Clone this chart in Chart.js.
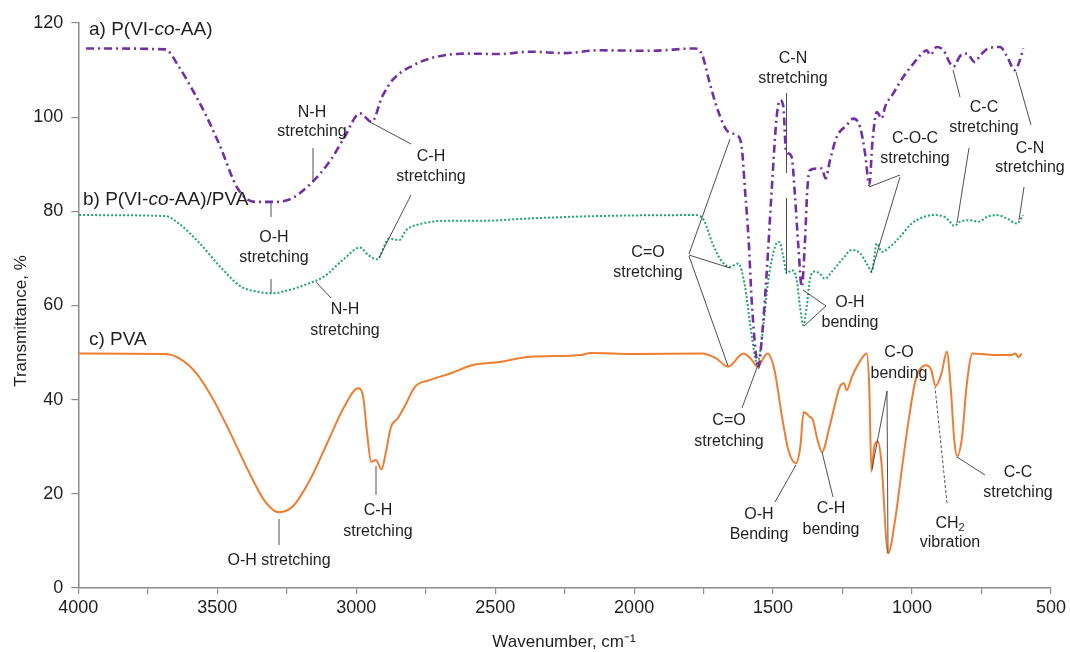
<!DOCTYPE html>
<html>
<head>
<meta charset="utf-8">
<script src="https://cdn.jsdelivr.net/npm/chart.js@4.4.1/dist/chart.umd.min.js"></script>
<style>
  html, body { margin: 0; padding: 0; background: #fff; }
</style>
</head>
<body>
<canvas id="ftir" width="1070" height="652"></canvas>
<script>
// a) P(VI-co-AA)
var waveA = [3972, 3687, 3638, 3588, 3538, 3489, 3427, 3365, 3303, 3241,
             3160, 3092, 3042, 2987, 2944, 2907, 2869, 2795, 2733, 2609,
             2485, 2374, 2250, 2127, 1941, 1780, 1755, 1731, 1699, 1662,
             1631, 1613, 1601, 1588, 1577, 1562, 1553, 1541, 1523, 1505,
             1487, 1475, 1463, 1454, 1445, 1433, 1421, 1409, 1397, 1385,
             1377, 1368, 1343, 1325, 1311, 1295, 1271, 1235, 1211, 1187,
             1169, 1154, 1142, 1127, 1109, 1097, 1068, 1031, 995, 965,
             947, 935, 911, 887, 863, 851, 827, 803, 774, 756,
             726, 683, 659, 630, 612, 600];
var transA = [114.6, 114.4, 110.7, 105.7, 100.1, 93.7, 84.9, 82.0, 82.0, 82.5,
              86.1, 90.9, 95.8, 100.8, 99.0, 104.3, 107.9, 111.0, 112.5, 113.5,
              113.4, 113.9, 113.6, 114.2, 114.1, 114.6, 113.2, 107.9, 101.5, 96.9,
              96.2, 93.7, 84.5, 73.9, 61.1, 49.9, 46.7, 52.7, 66.9, 84.5,
              100.1, 103.6, 102.2, 93.0, 92.3, 91.5, 83.1, 72.5, 64.0, 73.9,
              84.5, 88.7, 89.1, 89.1, 87.0, 90.9, 95.8, 98.3, 99.7, 97.9,
              92.3, 85.6, 95.1, 101.1, 99.7, 102.2, 105.0, 108.6, 111.4, 113.5,
              114.2, 113.2, 114.9, 114.2, 111.4, 110.7, 113.0, 113.5, 111.7, 113.0,
              114.6, 114.9, 113.0, 110.0, 112.1, 114.6];

// b) P(VI-co-AA)/PVA
var waveB = [3997, 3687, 3638, 3563, 3489, 3414, 3352, 3303, 3241, 3166,
             3117, 3042, 2987, 2956, 2925, 2882, 2845, 2820, 2770, 2671,
             2547, 2374, 2127, 1780, 1749, 1718, 1687, 1656, 1625, 1601,
             1583, 1565, 1557, 1541, 1517, 1493, 1478, 1463, 1451, 1433,
             1415, 1403, 1391, 1379, 1368, 1350, 1332, 1314, 1284, 1248,
             1218, 1187, 1163, 1145, 1127, 1109, 1079, 1043, 1007, 971,
             924, 882, 864, 848, 827, 791, 761, 731, 696, 659,
             623, 600];
var transB = [79.2, 79.0, 77.4, 73.2, 68.2, 64.0, 62.9, 62.6, 63.3, 64.8,
              66.1, 70.0, 72.3, 70.7, 69.8, 74.2, 73.9, 76.0, 77.3, 78.0,
              78.0, 78.5, 79.0, 79.2, 78.1, 73.2, 69.6, 68.2, 68.9, 64.0,
              56.2, 49.1, 47.3, 52.7, 65.4, 72.5, 73.5, 70.3, 66.8, 67.5,
              65.4, 59.7, 55.8, 59.7, 65.4, 67.2, 66.8, 65.7, 67.5, 70.0,
              71.8, 71.1, 68.9, 67.2, 73.2, 71.4, 72.5, 74.6, 77.1, 78.5,
              79.2, 78.8, 77.8, 76.9, 77.8, 78.1, 77.8, 78.8, 79.2, 78.5,
              77.4, 79.2];

// c) PVA
var waveC = [3997, 3687, 3638, 3575, 3513, 3452, 3390, 3327, 3278, 3229,
             3167, 3105, 3043, 2993, 2975, 2962, 2946, 2929, 2909, 2894,
             2875, 2851, 2820, 2789, 2733, 2659, 2584, 2485, 2374, 2189,
             2158, 2003, 1755, 1706, 1662, 1607, 1576, 1557, 1520, 1495,
             1470, 1445, 1418, 1402, 1390, 1369, 1357, 1340, 1324, 1297,
             1260, 1245, 1235, 1216, 1185, 1163, 1154, 1146, 1136, 1123,
             1111, 1086, 1061, 1037, 1012, 987, 950, 931, 915, 894,
             875, 861, 848, 838, 820, 804, 783, 702, 641, 628,
             618, 605];
var transC = [49.8, 49.7, 48.8, 45.6, 39.9, 32.8, 25.1, 18.3, 16.1, 17.3,
              22.9, 30.7, 38.5, 42.4, 40.6, 33.5, 26.8, 27.2, 25.2, 28.6,
              34.2, 36.0, 39.2, 42.7, 44.2, 45.6, 47.3, 48.0, 49.1, 49.5,
              49.9, 49.7, 49.8, 48.8, 47.0, 49.8, 48.4, 47.0, 49.8, 46.3,
              37.1, 29.3, 26.5, 30.0, 37.4, 36.4, 35.7, 31.4, 28.9, 34.2,
              42.7, 43.5, 42.0, 44.9, 48.4, 49.8, 42.7, 24.7, 30.0, 31.1,
              27.2, 7.4, 14.4, 25.1, 35.7, 44.2, 47.3, 46.3, 42.9, 45.6,
              50.2, 42.7, 31.4, 28.0, 32.1, 42.7, 49.8, 49.5, 49.5, 49.8,
              49.0, 49.8];

var xTicks = [4000, 3750, 3500, 3250, 3000, 2750, 2500, 2250, 2000, 1750, 1500, 1250, 1000, 750, 500];
var yTicks = [0, 20, 40, 60, 80, 100, 120];

function pts(w, t) {
  return w.map(function(x, i) { return { x: x, y: t[i] }; });
}

var FONT = '"Liberation Sans", Arial, sans-serif';
var TXT = '#1f1f1f';
var AXIS = '#8a8a8a';

// series names (segment lists, italic "co")
var seriesLabels = [
  { segs: ['a) P(VI-', { t: 'co', i: true }, '-AA)'], x: 89, y: 30 },
  { segs: ['b) P(VI-', { t: 'co', i: true }, '-AA)/PVA'], x: 83, y: 200 },
  { segs: ['c) PVA'], x: 89, y: 340 }
];

// band labels: text lines, centre x, line y's, leader lines
var notes = [
  { lines: ['N-H', 'stretching'], x: 312, y: [113, 132], lead: [[313, 148, 313, 182]] },
  { lines: ['C-H', 'stretching'], x: 431, y: [157, 177], lead: [[411, 144, 370, 122], [411, 195, 379, 258]] },
  { lines: ['O-H', 'stretching'], x: 274, y: [238, 258], lead: [[271, 203, 271, 217], [271, 279, 271, 293]] },
  { lines: ['N-H', 'stretching'], x: 345, y: [310, 331], lead: [[331, 298, 316, 282]] },
  { lines: ['O-H stretching'], x: 279, y: [561], lead: [[279, 519, 279, 545]] },
  { lines: ['C-H', 'stretching'], x: 378, y: [511, 532], lead: [[376, 466, 376, 495]] },
  { lines: ['C-N', 'stretching'], x: 793, y: [59, 79], lead: [[786.5, 93, 786.5, 173], [786.5, 198, 786.5, 273]] },
  { lines: ['C=O', 'stretching'], x: 648, y: [253, 273], lead: [[689, 254, 730, 139], [689, 255, 730, 268], [689, 256, 728, 366]] },
  { lines: ['O-H', 'bending'], x: 850, y: [303, 323], lead: [[826, 306, 803, 290], [826, 306, 804, 326]] },
  { lines: ['C-O-C', 'stretching'], x: 915, y: [139, 159], lead: [[900, 175, 869, 187], [900, 177, 871, 273]] },
  { lines: ['C-C', 'stretching'], x: 984, y: [108, 128], lead: [[960, 97, 953, 70], [969, 148, 957, 223]] },
  { lines: ['C-N', 'stretching'], x: 1030, y: [149, 168], lead: [[1031, 125, 1016, 72], [1024, 187, 1019, 220]] },
  { lines: ['C=O', 'stretching'], x: 729, y: [421, 442], lead: [[742, 408, 758, 365]] },
  { lines: ['O-H', 'Bending'], x: 759, y: [515, 535], lead: [[775, 502, 796, 465]] },
  { lines: ['C-H', 'bending'], x: 831, y: [509, 530], lead: [[833, 497, 822, 452]] },
  { lines: ['C-O', 'bending'], x: 899, y: [353, 374], lead: [[887, 391, 872, 469], [887, 391, 888, 553]] },
  { lines: [['CH', { t: '2', sub: true }], 'vibration'], x: 950, y: [524, 543], lead: [[947, 503, 935, 387]], dash: true },
  { lines: ['C-C', 'stretching'], x: 1018, y: [473, 493], lead: [[985, 475, 957, 457]] }
];

function segFont(p, size) {
  return (p.i ? 'italic ' : '') + (p.sub ? Math.round(size * 0.68) : size) + 'px ' + FONT;
}

function drawRich(ctx, segs, x, y, size, align) {
  if (typeof segs === 'string') segs = [segs];
  var parts = segs.map(function(s) { return typeof s === 'string' ? { t: s } : s; });
  var total = 0;
  parts.forEach(function(p) {
    ctx.font = segFont(p, size);
    p.w = ctx.measureText(p.t).width;
    total += p.w;
  });
  var cx = align === 'left' ? x : x - total / 2;
  parts.forEach(function(p) {
    ctx.font = segFont(p, size);
    ctx.fillText(p.t, cx, y + (p.sub ? size * 0.22 : 0));
    cx += p.w;
  });
}

var labelsPlugin = {
  id: 'bandLabels',
  afterDraw: function(chart) {
    var ctx = chart.ctx;
    ctx.save();
    ctx.textAlign = 'left';
    ctx.textBaseline = 'middle';

    // leader lines
    ctx.strokeStyle = '#3a3a3a';
    ctx.lineWidth = 0.9;
    notes.forEach(function(n) {
      ctx.setLineDash(n.dash ? [3, 2] : []);
      n.lead.forEach(function(l) {
        ctx.beginPath();
        ctx.moveTo(l[0], l[1]);
        ctx.lineTo(l[2], l[3]);
        ctx.stroke();
      });
    });
    ctx.setLineDash([]);

    ctx.fillStyle = TXT;
    notes.forEach(function(n) {
      n.lines.forEach(function(line, i) {
        drawRich(ctx, line, n.x, n.y[i], 16, 'center');
      });
    });

    seriesLabels.forEach(function(s) {
      drawRich(ctx, s.segs, s.x, s.y, 19, 'left');
    });

    // axis titles
    ctx.font = '17px ' + FONT;
    ctx.textAlign = 'center';
    ctx.fillText('Wavenumber, cm\u207B\u00B9', 564, 642);
    ctx.save();
    ctx.translate(21, 321);
    ctx.rotate(-Math.PI / 2);
    ctx.fillText('Transmittance, %', 0, 0);
    ctx.restore();

    ctx.restore();
  }
};

var ctx = document.getElementById('ftir').getContext('2d');
new Chart(ctx, {
  type: 'line',
  data: {
    datasets: [
      {
        label: 'a) P(VI-co-AA)',
        data: pts(waveA, transA),
        borderColor: '#7030A0',
        borderWidth: 2.6,
        borderDash: [8, 4, 2, 4],
        pointRadius: 0,
        cubicInterpolationMode: 'monotone',
        order: 1
      },
      {
        label: 'b) P(VI-co-AA)/PVA',
        data: pts(waveB, transB),
        borderColor: '#1FA36E',
        borderWidth: 2,
        borderDash: [2, 2],
        pointRadius: 0,
        cubicInterpolationMode: 'monotone',
        order: 2
      },
      {
        label: 'c) PVA',
        data: pts(waveC, transC),
        borderColor: '#ED7D31',
        borderWidth: 2,
        pointRadius: 0,
        cubicInterpolationMode: 'monotone',
        order: 3
      }
    ]
  },
  options: {
    responsive: false,
    animation: false,
    devicePixelRatio: 1,
    layout: { padding: { top: 23, right: 19, left: 0, bottom: 0 } },
    plugins: {
      legend: { display: false },
      tooltip: { enabled: false }
    },
    scales: {
      x: {
        type: 'linear',
        reverse: true,
        min: 500,
        max: 4000,
        afterFit: function(s) { s.height = 64; },
        afterBuildTicks: function(s) { s.ticks = xTicks.map(function(v) { return { value: v }; }); },
        ticks: {
          autoSkip: false,
          maxRotation: 0,
          padding: 3,
          color: TXT,
          font: { family: FONT, size: 18 },
          callback: function(v) { return v % 500 === 0 ? String(v) : ''; }
        },
        grid: { drawOnChartArea: false, drawTicks: true, tickLength: 6, color: AXIS, lineWidth: 1.2 },
        border: { color: AXIS, width: 1.5 }
      },
      y: {
        min: 0,
        max: 120,
        afterFit: function(s) { s.width = 78.3; },
        afterBuildTicks: function(s) { s.ticks = yTicks.map(function(v) { return { value: v }; }); },
        ticks: {
          padding: 8,
          color: TXT,
          font: { family: FONT, size: 18 }
        },
        grid: { drawOnChartArea: false, drawTicks: true, tickLength: 7, color: AXIS, lineWidth: 1.2 },
        border: { color: AXIS, width: 1.5 }
      }
    }
  },
  plugins: [labelsPlugin]
});
</script>
</body>
</html>
